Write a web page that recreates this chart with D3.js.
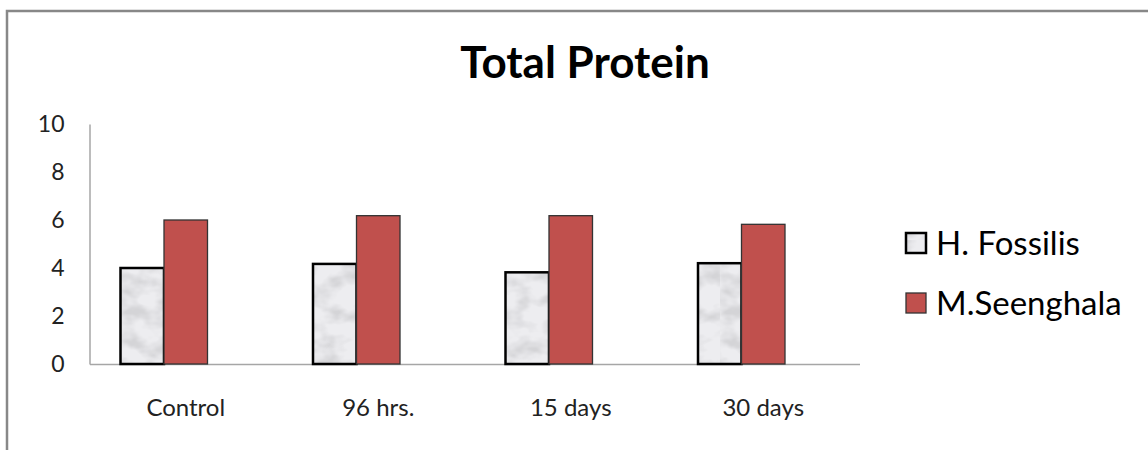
<!DOCTYPE html>
<html><head><meta charset="utf-8">
<script src="https://cdn.jsdelivr.net/npm/d3@7"></script>
<style>body{margin:0;background:#fff}svg{display:block}</style>
</head><body>
<svg id="c" width="1148" height="450"></svg>
<script>
const categories = ["Control", "96 hrs.", "15 days", "30 days"];
const seriesNames = ["H. Fossilis", "M.Seenghala"];
const hFossilis = [4.0, 4.17, 3.82, 4.2];
const mSeenghala = [6.0, 6.18, 6.18, 5.82];
const yTicks = [0, 2, 4, 6, 8, 10];

const svg = d3.select("#c");
const font = "Lato, 'Open Sans', sans-serif";

// texture
const defs = svg.append("defs");
const flt = defs.append("filter").attr("id","marble").attr("x",0).attr("y",0).attr("width","100%").attr("height","100%");
flt.append("feTurbulence").attr("type","fractalNoise").attr("baseFrequency","0.04 0.06").attr("numOctaves",3).attr("seed",4).attr("result","n");
flt.append("feColorMatrix").attr("in","n").attr("type","matrix")
  .attr("values","0 0 0 0 0.66  0 0 0 0 0.66  0 0 0 0 0.68  -2.6 0 0 0 1.55").attr("result","c");
flt.append("feComposite").attr("in","c").attr("in2","SourceGraphic").attr("operator","over");
const pat = defs.append("pattern").attr("id","tex").attr("patternUnits","userSpaceOnUse").attr("width",120).attr("height",240);
pat.append("rect").attr("width",120).attr("height",240).attr("fill","#ededf0").attr("filter","url(#marble)");

// frame
svg.append("path").attr("d","M7,450 V11 H1148").attr("fill","none").attr("stroke","#888").attr("stroke-width",2.5);

const x = d3.scaleBand().domain(categories).range([89.5, 859.5]);
const y = d3.scaleLinear().domain([0,10]).range([364,124]);
const bw = 43.5;
const off = 31;

// title
svg.append("text").attr("x",585).attr("y",78).attr("text-anchor","middle")
  .attr("font-family",font).attr("font-weight","bold").attr("font-size",44).attr("fill","#000").text("Total Protein");

// axes
const yAxis = d3.axisLeft(y).tickValues(yTicks).tickSize(0).tickPadding(0);
const gy = svg.append("g").attr("transform","translate(89.5,0)").call(yAxis);
gy.select(".domain").attr("stroke","#a6a6a6").attr("stroke-width",1.5);
gy.selectAll("text").attr("x",-25).attr("font-family",font).attr("font-size",23).attr("fill","#222");

const xAxis = d3.axisBottom(x).tickSize(0).tickPadding(0);
const gx = svg.append("g").attr("transform","translate(0,364)").call(xAxis);
gx.select(".domain").attr("stroke","#a6a6a6").attr("stroke-width",1.5);
gx.selectAll("text").attr("dy",0).attr("y",52).attr("font-family",font).attr("font-size",24).attr("fill","#222");

// bars
svg.append("g").selectAll("rect").data(categories).join("rect")
  .attr("x", (d)=>x(d)+off).attr("width",bw)
  .attr("y",(d,i)=>y(hFossilis[i])).attr("height",(d,i)=>y(0)-y(hFossilis[i]))
  .attr("fill","url(#tex)").attr("stroke","#000").attr("stroke-width",2.5);
svg.append("g").selectAll("rect").data(categories).join("rect")
  .attr("x", (d)=>x(d)+off+bw).attr("width",bw)
  .attr("y",(d,i)=>y(mSeenghala[i])).attr("height",(d,i)=>y(0)-y(mSeenghala[i]))
  .attr("fill","#c0504d").attr("stroke","#333").attr("stroke-width",1.3);

// legend
const lg = svg.append("g");
const fills = ["url(#tex)","#c0504d"];
const strokes = ["#000","#333"];
seriesNames.forEach((s,i)=>{
  const cy = 243 + i*60;
  lg.append("rect").attr("x",906).attr("y",cy-10).attr("width",20).attr("height",20)
    .attr("fill",fills[i]).attr("stroke",strokes[i]).attr("stroke-width",i?1.3:2.5);
  lg.append("text").attr("x",936).attr("y",cy+12).attr("font-family",font).attr("font-size",33).attr("fill","#000").text(s);
});
</script>
</body></html>
